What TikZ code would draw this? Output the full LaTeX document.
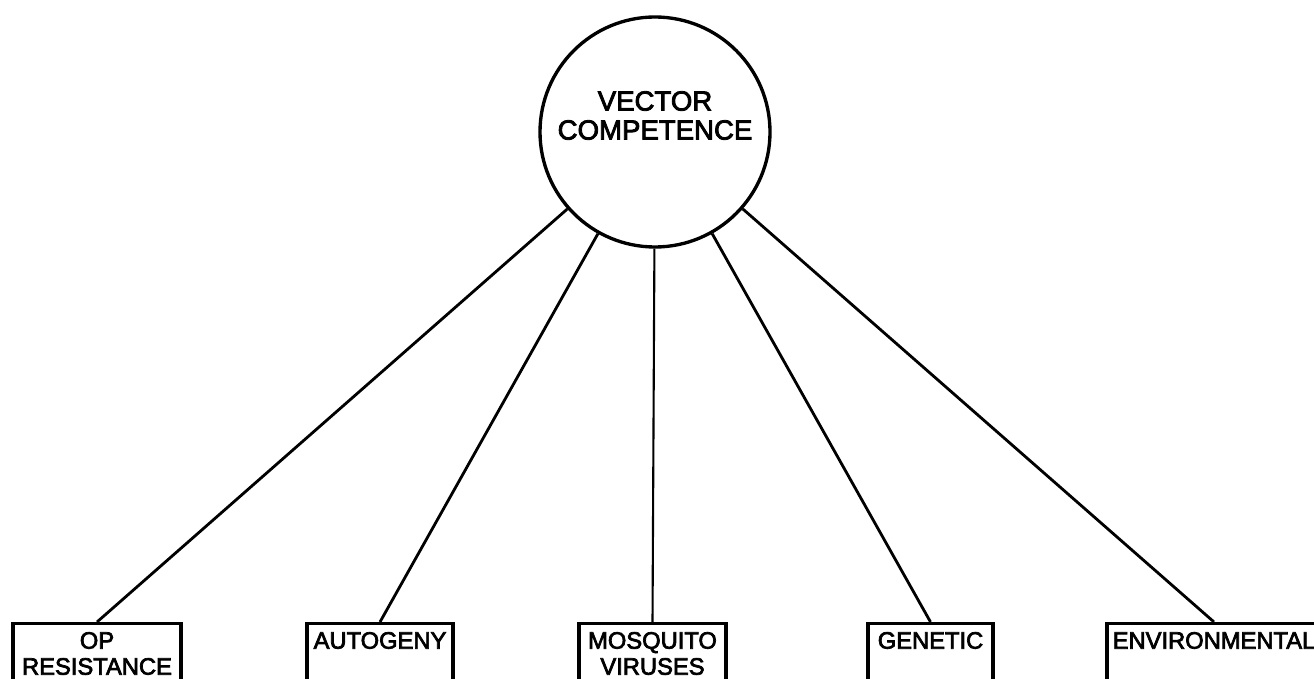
\documentclass[tikz,border=0pt]{standalone}
\usepackage{fontspec}
\setmainfont[AutoFakeBold=3]{Liberation Sans}
\usepackage{tikz}
\usetikzlibrary{positioning,calc}

\begin{document}
\begin{tikzpicture}[
  factor/.style={draw, line width=1.9pt, rectangle, anchor=north, align=center,
    font=\fontsize{13.5}{14.8}\selectfont\bfseries, inner xsep=2pt, inner ysep=0.1cm,
    text height=0.4cm, text depth=2cm},
  factortwo/.style={factor, text height=0.92cm, text depth=1.5cm},
  spoke/.style={line width=1.6pt}]
\useasboundingbox (0,0) rectangle (26.28,13.56);
\clip (0,0) rectangle (26.28,13.56);

% Central circle
\node[circle, draw, line width=1.9pt, minimum size=4.6cm] (vc) at (13.1,10.92) {};
\node[align=center, font=\fontsize{15.7}{16.5}\selectfont\bfseries] (vctext) at ([yshift=0.33cm]vc.center) {VECTOR\\COMPETENCE};

% Factors
\node[factortwo, minimum width=3.36cm] (op) at (1.94,1.12) {OP\\RESISTANCE};
\node[factor, minimum width=2.92cm] (autogeny) at (7.6,1.12) {AUTOGENY};
\node[factortwo, minimum width=2.94cm] (viruses) at (13.05,1.12) {MOSQUITO\\VIRUSES};
\node[factor, minimum width=2.5cm] (genetic) at (18.61,1.12) {GENETIC};
\node[factor, minimum width=4.28cm] (environ) at (24.28,1.12) {ENVIRONMENTAL};

% Spokes
\draw[spoke] (vc) -- (op.north);
\draw[spoke] (vc) -- (autogeny.north);
\draw[spoke, line width=1.2pt] (vc) -- (viruses.north);
\draw[spoke] (vc) -- (genetic.north);
\draw[spoke] (vc) -- (environ.north);
\end{tikzpicture}
\end{document}
